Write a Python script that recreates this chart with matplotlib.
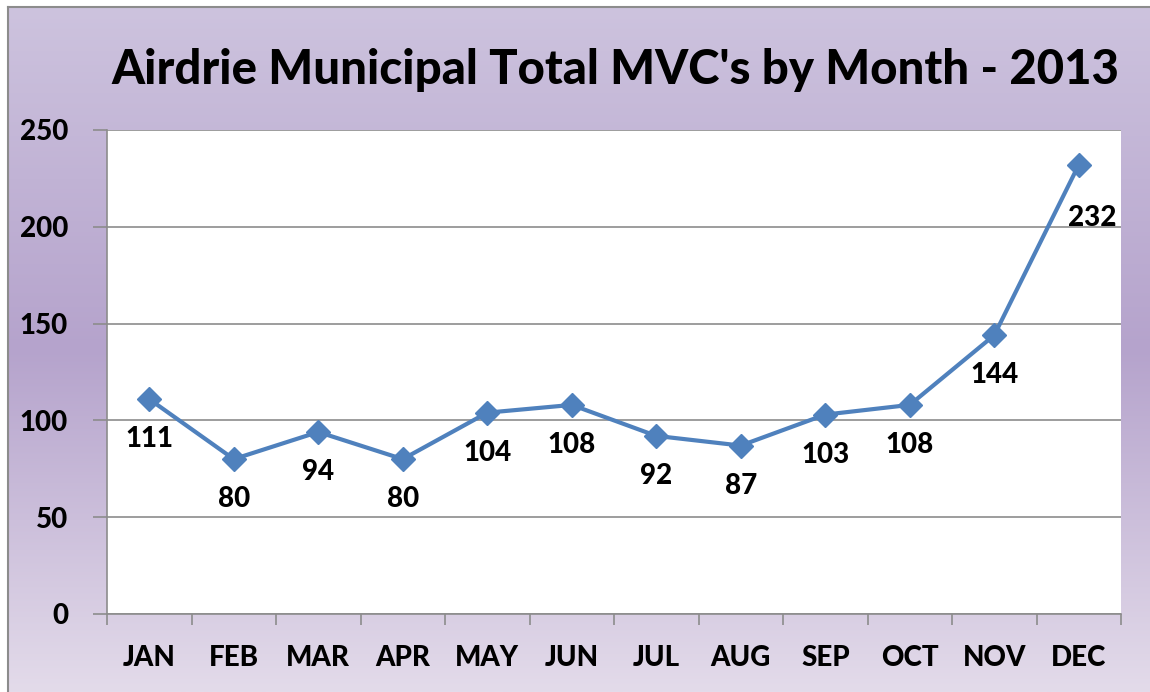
import matplotlib
matplotlib.use("Agg")
import matplotlib.pyplot as plt
import numpy as np
from matplotlib.colors import LinearSegmentedColormap

months = ["JAN", "FEB", "MAR", "APR", "MAY", "JUN", "JUL", "AUG", "SEP", "OCT", "NOV", "DEC"]
mvc = [111, 80, 94, 80, 104, 108, 92, 87, 103, 108, 144, 232]
yticks = [0, 50, 100, 150, 200, 250]
title = "Airdrie Municipal Total MVC's by Month - 2013"

plt.rcParams['font.family'] = ['Lato', 'DejaVu Sans']
W = 900

fig = plt.figure(figsize=(11.5, 6.92), dpi=100)
fig.patch.set_facecolor("white")

# background gradient panel
bg = fig.add_axes([8/1150, 0, 1 - 8/1150, 1 - 7/692])
cmap = LinearSegmentedColormap.from_list(
    "bgp", [(0.0, "#cdc3de"), (0.5, "#b5a3cc"), (1.0, "#e3dbea")])
grad = np.linspace(0, 1, 256).reshape(-1, 1)
bg.imshow(grad, aspect="auto", cmap=cmap, extent=[0, 1, 1, 0])
bg.set_xlim(0, 1); bg.set_ylim(1, 0)
bg.set_xticks([]); bg.set_yticks([])
for s in ["right", "bottom"]:
    bg.spines[s].set_visible(False)
for s in ["left", "top"]:
    bg.spines[s].set_color("#8c8c8c")
    bg.spines[s].set_linewidth(1.5)

fig.text(615/1150, 1 - 70/692, title, ha="center", va="center",
         fontsize=34, fontweight=W, color="black")

ax = fig.add_axes([107/1150, 78/692, (1121 - 107)/1150, (614 - 130)/692])
ax.set_facecolor("white")
x = np.arange(len(months))
ax.plot(x, mvc, color="#4f81bd", linewidth=3, marker="D", markersize=12.5,
        markerfacecolor="#4f81bd", markeredgecolor="#4f81bd", zorder=3)

ax.set_xlim(-0.5, len(months) - 0.5)
ax.set_ylim(0, 250)
ax.set_yticks(yticks)
ax.set_yticklabels([str(v) for v in yticks], fontsize=20, fontweight=W)
ax.set_xticks(x)
ax.set_xticklabels(months, fontsize=20, fontweight=W)
ax.tick_params(axis="x", which="major", length=0, pad=22)
ax.set_xticks(np.arange(-0.5, len(months), 1), minor=True)
ax.tick_params(axis="x", which="minor", length=8, color="#8c8c8c", width=1.2)
ax.tick_params(axis="y", length=10, color="#8c8c8c", width=1.2, pad=18)
ax.grid(axis="y", color="#8c8c8c", linewidth=1.2)
ax.set_axisbelow(True)
for s in ["top", "right"]:
    ax.spines[s].set_visible(False)
for s in ["left", "bottom"]:
    ax.spines[s].set_color("#8c8c8c")
    ax.spines[s].set_linewidth(1.2)

for i, v in enumerate(mvc):
    dx = 10 if i == len(mvc) - 1 else 0
    dy = -38 if i == len(mvc) - 1 else -29
    ax.annotate(str(v), (i, v), xytext=(dx, dy), textcoords="offset points",
                ha="center", va="center", fontsize=20, fontweight=W)

fig.savefig("out.png", dpi=100)
